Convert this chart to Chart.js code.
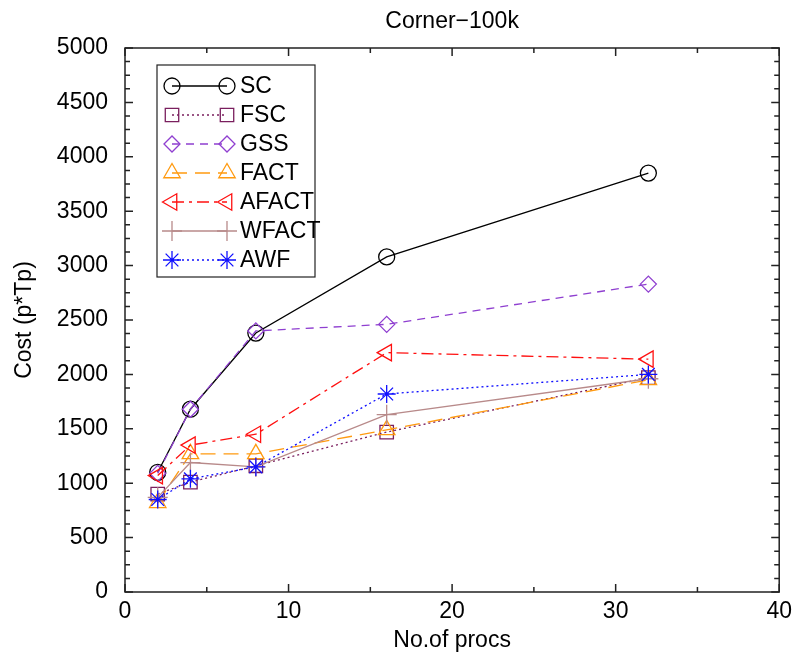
<!DOCTYPE html>
<html>
<head>
<meta charset="utf-8">
<title>Corner-100k</title>
<script src="https://cdn.jsdelivr.net/npm/chart.js@4.4.1/dist/chart.umd.min.js"></script>
<style>
  html, body { margin: 0; padding: 0; background: #fff; }
  canvas { display: block; }
</style>
</head>
<body>
<canvas id="costChart" width="798" height="659"></canvas>
<script>
// processor counts and cost (p*Tp) per scheduling scheme
const procs = [2, 4, 8, 16, 32];
const scCost = [1100, 1680, 2380, 3080, 3850];
const fscCost = [900, 1010, 1160, 1470, 1970];
const gssCost = [1090, 1680, 2400, 2460, 2830];
const factCost = [820, 1270, 1270, 1490, 1950];
const afactCost = [1070, 1350, 1450, 2200, 2140];
const wfactCost = [870, 1190, 1150, 1630, 1960];
const awfCost = [850, 1040, 1150, 1820, 2000];

const xTicks = { min: 0, max: 40, step: 10, minor: 5 };
const yTicks = { min: 0, max: 5000, step: 500, minor: 125 };

const FONT = "'Liberation Sans', Arial, sans-serif";

function series(label, values, color, dash, style, radius, rotation) {
  return {
    label: label,
    data: procs.map((p, i) => ({ x: p, y: values[i] })),
    borderColor: color,
    backgroundColor: "rgba(0,0,0,0)",
    borderWidth: 1.3,
    borderDash: dash,
    pointStyle: style,
    pointRadius: radius,
    pointRotation: rotation || 0,
    pointBorderColor: color,
    pointBackgroundColor: "rgba(0,0,0,0)",
    pointBorderWidth: 1.3,
    tension: 0,
    fill: false
  };
}

const datasets = [
  series("SC", scCost, "#000000", [], "circle", 8),
  series("FSC", fscCost, "#7a1f5e", [2, 3], "rect", 9.5),
  series("GSS", gssCost, "#8f3fd0", [8, 6], "rectRot", 8),
  series("FACT", factCost, "#ff9a10", [15, 8], "triangle", 9.5),
  series("AFACT", afactCost, "#ff1010", [12, 5, 3, 5], "triangle", 9.5, -90),
  series("WFACT", wfactCost, "#b88a8a", [], "cross", 10),
  series("AWF", awfCost, "#1010ff", [2, 3], "star", 9)
];
// first series drawn first, later ones on top
datasets.forEach((d, i) => { d.order = datasets.length - i; });

// frame + inward ticks on all four sides
const framePlugin = {
  id: "frame",
  beforeDatasetsDraw(chart) {
    const { ctx, chartArea: a, scales } = chart;
    ctx.save();
    ctx.strokeStyle = "#222";
    ctx.lineWidth = 1.5;
    ctx.beginPath();
    for (let v = yTicks.min; v <= yTicks.max; v += yTicks.minor) {
      const y = scales.y.getPixelForValue(v);
      const len = v % yTicks.step === 0 ? 8 : 5;
      ctx.moveTo(a.left, y); ctx.lineTo(a.left + len, y);
      ctx.moveTo(a.right, y); ctx.lineTo(a.right - len, y);
    }
    for (let v = xTicks.min; v <= xTicks.max; v += xTicks.minor) {
      const x = scales.x.getPixelForValue(v);
      const len = v % xTicks.step === 0 ? 8 : 5;
      ctx.moveTo(x, a.bottom); ctx.lineTo(x, a.bottom - len);
      ctx.moveTo(x, a.top); ctx.lineTo(x, a.top + len);
    }
    ctx.stroke();
    ctx.strokeRect(a.left, a.top, a.right - a.left, a.bottom - a.top);
    ctx.restore();
  }
};

// gnuplot-like key: line with a marker at each end, boxed
const keyPlugin = {
  id: "key",
  afterDatasetsDraw(chart) {
    const ctx = chart.ctx;
    const box = { x: 157, y: 65, w: 158, h: 212 };
    ctx.save();
    ctx.fillStyle = "#fff";
    ctx.fillRect(box.x, box.y, box.w, box.h);
    ctx.strokeStyle = "#222";
    ctx.lineWidth = 1.2;
    ctx.strokeRect(box.x, box.y, box.w, box.h);
    chart.data.datasets.forEach((d, i) => {
      const y = 86 + i * 29;
      const x1 = 172, x2 = 227;
      ctx.strokeStyle = d.borderColor;
      ctx.lineWidth = d.borderWidth;
      ctx.setLineDash(d.borderDash);
      ctx.beginPath();
      ctx.moveTo(x1, y);
      ctx.lineTo(x2, y);
      ctx.stroke();
      ctx.setLineDash([]);
      [x1, x2].forEach(x => {
        ctx.strokeStyle = d.pointBorderColor;
        ctx.fillStyle = "rgba(0,0,0,0)";
        ctx.lineWidth = d.pointBorderWidth;
        Chart.helpers.drawPoint(ctx, {
          pointStyle: d.pointStyle,
          radius: d.pointRadius,
          rotation: d.pointRotation,
          borderWidth: d.pointBorderWidth
        }, x, y);
      });
      ctx.fillStyle = "#000";
      ctx.font = "23px " + FONT;
      ctx.textAlign = "left";
      ctx.textBaseline = "middle";
      ctx.fillText(d.label, 240, y + 1);
    });
    ctx.restore();
  }
};

const ctx = document.getElementById("costChart").getContext("2d");
new Chart(ctx, {
  type: "line",
  data: { datasets: datasets },
  plugins: [framePlugin, keyPlugin],
  options: {
    responsive: false,
    animation: false,
    devicePixelRatio: 1,
    layout: { padding: { left: 0, right: 17, top: 0, bottom: 0 } },
    plugins: {
      legend: { display: false },
      tooltip: { enabled: false },
      title: {
        display: true,
        text: "Corner\u2212100k",
        fullSize: false,
        color: "#000",
        font: { family: FONT, size: 23, weight: "normal" },
        padding: { top: 8, bottom: 12.4 }
      }
    },
    scales: {
      x: {
        type: "linear",
        min: xTicks.min,
        max: xTicks.max,
        afterFit(scale) { scale.height = 67; },
        grid: { display: false, drawTicks: false },
        border: { display: false },
        ticks: {
          stepSize: xTicks.step,
          padding: 6,
          color: "#000",
          font: { family: FONT, size: 23 },
          callback: v => String(v)
        },
        title: {
          display: true,
          text: "No.of procs",
          color: "#000",
          font: { family: FONT, size: 23 },
          padding: { top: 0, bottom: 5 }
        }
      },
      y: {
        type: "linear",
        min: yTicks.min,
        max: yTicks.max,
        afterFit(scale) { scale.width = 125; },
        grid: { display: false, drawTicks: false },
        border: { display: false },
        ticks: {
          stepSize: yTicks.step,
          padding: 17,
          color: "#000",
          font: { family: FONT, size: 23 },
          callback: v => String(v)
        },
        title: {
          display: true,
          text: "Cost (p*Tp)",
          color: "#000",
          font: { family: FONT, size: 23 },
          padding: { top: 11, bottom: 0 }
        }
      }
    }
  }
});
</script>
</body>
</html>
